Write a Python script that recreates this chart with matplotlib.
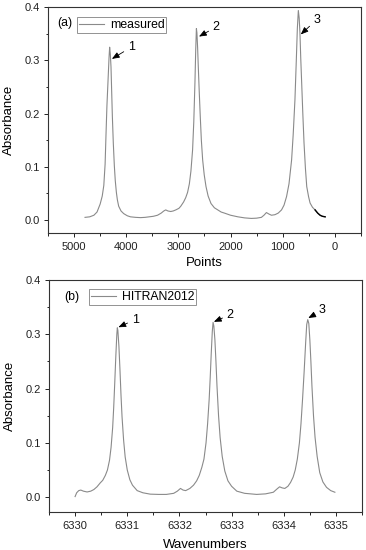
import numpy as np
import matplotlib
matplotlib.use("Agg")
import matplotlib.pyplot as plt
from matplotlib.ticker import MultipleLocator

plt.rcParams['font.family'] = ['Liberation Sans', 'DejaVu Sans']

# ---- panel (a): measured spectrum ----
points_a = [4790, 4700, 4620, 4560, 4500, 4460, 4430, 4405, 4388, 4370, 4349, 4330,
            4318, 4305, 4292, 4280, 4266, 4248, 4228, 4210, 4189, 4170, 4145, 4100,
            4048, 3980, 3919, 3820, 3726, 3640, 3560, 3480, 3400, 3330, 3280, 3243,
            3200, 3147, 3100, 3050, 2990, 2954, 2900, 2860, 2824, 2790, 2760, 2728,
            2705, 2683, 2668, 2655, 2645, 2632, 2619, 2600, 2581, 2560, 2535, 2505,
            2471, 2430, 2375, 2310, 2245, 2180, 2117, 2000, 1859, 1730, 1602, 1500,
            1409, 1360, 1313, 1260, 1216, 1150, 1087, 1023, 975, 927, 880, 830, 800,
            766, 740, 720, 701, 685, 670, 655, 637, 615, 592, 565, 540, 505, 476,
            430, 380, 330, 284, 240, 187]
absorb_a = [0.005, 0.006, 0.009, 0.015, 0.030, 0.045, 0.065, 0.105, 0.160, 0.215, 0.262, 0.305,
            0.325, 0.312, 0.288, 0.245, 0.195, 0.145, 0.102, 0.074, 0.052, 0.038, 0.026, 0.017,
            0.012, 0.008, 0.006, 0.005, 0.0045, 0.005, 0.006, 0.007, 0.009, 0.013, 0.017, 0.019,
            0.017, 0.016, 0.017, 0.019, 0.022, 0.026, 0.034, 0.042, 0.052, 0.068, 0.092, 0.132,
            0.185, 0.258, 0.320, 0.360, 0.352, 0.325, 0.289, 0.240, 0.195, 0.150, 0.113, 0.085,
            0.063, 0.045, 0.031, 0.023, 0.019, 0.015, 0.013, 0.009, 0.006, 0.004, 0.003, 0.0035,
            0.005, 0.009, 0.014, 0.011, 0.009, 0.010, 0.013, 0.019, 0.028, 0.044, 0.068, 0.113, 0.160,
            0.226, 0.300, 0.360, 0.394, 0.380, 0.352, 0.305, 0.258, 0.200, 0.145, 0.097, 0.063, 0.044, 0.032,
            0.024, 0.019, 0.013, 0.009, 0.007, 0.006]

# ---- panel (b): HITRAN2012 spectrum ----
wn_b = [6330.00, 6330.03, 6330.07, 6330.11, 6330.16, 6330.23, 6330.30, 6330.36, 6330.42,
        6330.48, 6330.53, 6330.58, 6330.62, 6330.66, 6330.69, 6330.72, 6330.74, 6330.76,
        6330.78, 6330.80, 6330.81, 6330.82, 6330.84, 6330.86, 6330.88, 6330.90, 6330.93,
        6330.96, 6331.00, 6331.05, 6331.10, 6331.19, 6331.30, 6331.44, 6331.60, 6331.75,
        6331.89, 6331.96, 6332.02, 6332.07, 6332.12, 6332.20, 6332.27, 6332.33, 6332.38,
        6332.43, 6332.47, 6332.51, 6332.54, 6332.57, 6332.59, 6332.61, 6332.63, 6332.645,
        6332.66, 6332.68, 6332.70, 6332.72, 6332.75, 6332.78, 6332.82, 6332.87, 6332.93,
        6333.00, 6333.10, 6333.25, 6333.48, 6333.65, 6333.80, 6333.87, 6333.92, 6333.97,
        6334.02, 6334.08, 6334.13, 6334.18, 6334.22, 6334.26, 6334.30, 6334.33, 6334.36,
        6334.39, 6334.42, 6334.44, 6334.46, 6334.48, 6334.50, 6334.52, 6334.54, 6334.57,
        6334.60, 6334.64, 6334.69, 6334.75, 6334.82, 6334.90, 6334.98]
absorb_b = [0.001, 0.008, 0.012, 0.013, 0.011, 0.0095, 0.011, 0.014, 0.019,
            0.026, 0.031, 0.040, 0.050, 0.068, 0.092, 0.128, 0.165, 0.210,
            0.258, 0.300, 0.312, 0.307, 0.278, 0.235, 0.188, 0.148, 0.105,
            0.074, 0.050, 0.032, 0.022, 0.012, 0.008, 0.0055, 0.005, 0.005,
            0.007, 0.011, 0.016, 0.013, 0.012, 0.016, 0.022, 0.030, 0.040,
            0.055, 0.070, 0.100, 0.135, 0.180, 0.220, 0.265, 0.305, 0.322,
            0.315, 0.290, 0.250, 0.205, 0.150, 0.110, 0.075, 0.048, 0.030,
            0.020, 0.011, 0.007, 0.005, 0.006, 0.009, 0.015, 0.019, 0.017,
            0.016, 0.020, 0.027, 0.037, 0.050, 0.070, 0.100, 0.135, 0.180,
            0.230, 0.285, 0.318, 0.327, 0.320, 0.290, 0.250, 0.205, 0.150,
            0.110, 0.075, 0.045, 0.028, 0.018, 0.012, 0.009]

labels_peaks = ["1", "2", "3"]
# annotation positions (text, arrow head)
ann_a_text = [(3905, 0.325), (2278, 0.363), (347, 0.377)]
ann_a_head = [(4275, 0.303), (2605, 0.345), (655, 0.349)]
ann_b_text = [(6331.15, 0.327), (6332.97, 0.336), (6334.74, 0.344)]
ann_b_head = [(6330.83, 0.313), (6332.66, 0.323), (6334.47, 0.330)]

line_col = '#8a8a8a'
spine_col = '#333333'

fig = plt.figure(figsize=(3.66, 5.5), dpi=100)
ax1 = fig.add_axes([0.1311, 0.5758, 0.8552, 0.4109])
ax2 = fig.add_axes([0.1339, 0.0685, 0.8552, 0.4224])

def style(ax):
    for s in ax.spines.values():
        s.set_color(spine_col)
        s.set_linewidth(0.8)
    ax.tick_params(which='both', direction='out', top=False, right=False,
                   labelsize=8, colors='#222222', width=0.7)
    ax.tick_params(which='major', length=3, pad=3)
    ax.tick_params(which='minor', length=1.8)
    ax.yaxis.set_major_locator(MultipleLocator(0.1))
    ax.yaxis.set_minor_locator(MultipleLocator(0.05))
    ax.yaxis.set_major_formatter(plt.FormatStrFormatter('%.1f'))
    ax.set_ylabel('Absorbance', fontsize=9.5, labelpad=7)

arrow_style = dict(arrowstyle='-|>,head_length=0.5,head_width=0.2',
                   color='black', lw=0.6, shrinkA=1, shrinkB=0)

# panel a
xa = np.array(points_a)
ya = np.array(absorb_a)
l1, = ax1.plot(xa, ya, color=line_col, lw=0.8, label='measured')
mask = xa <= 380
ax1.plot(xa[mask], ya[mask], color='black', lw=1.0)
ax1.set_xlim(5500, -500)
ax1.set_ylim(-0.025, 0.4)
ax1.xaxis.set_major_locator(MultipleLocator(1000))
ax1.xaxis.set_minor_locator(MultipleLocator(500))
style(ax1)
ax1.set_xlabel('Points', fontsize=9.5, labelpad=4)
leg1 = ax1.legend(handles=[l1], loc='upper left', bbox_to_anchor=(0.094, 0.956),
                  borderaxespad=0, fontsize=8.8, frameon=True, fancybox=False,
                  edgecolor='#777777', borderpad=0.15, handlelength=2.0,
                  handletextpad=0.5)
leg1.get_frame().set_linewidth(0.7)
ax1.text(0.054, 0.932, '(a)', transform=ax1.transAxes, fontsize=8.8,
         ha='center', va='center')
for lab, t, h in zip(labels_peaks, ann_a_text, ann_a_head):
    ax1.annotate(lab, xy=h, xytext=t, fontsize=9, ha='center', va='center',
                 arrowprops=arrow_style)

# panel b
l2, = ax2.plot(wn_b, absorb_b, color=line_col, lw=0.8, label='HITRAN2012')
ax2.set_xlim(6329.5, 6335.5)
ax2.set_ylim(-0.028, 0.4)
ax2.xaxis.set_major_locator(MultipleLocator(1))
ax2.xaxis.set_minor_locator(MultipleLocator(0.5))
ax2.xaxis.set_major_formatter(plt.FormatStrFormatter('%d'))
style(ax2)
ax2.set_xlabel('Wavenumbers', fontsize=9.5, labelpad=6)
leg2 = ax2.legend(handles=[l2], loc='upper left', bbox_to_anchor=(0.129, 0.961),
                  borderaxespad=0, fontsize=8.8, frameon=True, fancybox=False,
                  edgecolor='#777777', borderpad=0.15, handlelength=2.0,
                  handletextpad=0.5)
leg2.get_frame().set_linewidth(0.7)
ax2.text(0.0725, 0.928, '(b)', transform=ax2.transAxes, fontsize=8.8,
         ha='center', va='center')
for lab, t, h in zip(labels_peaks, ann_b_text, ann_b_head):
    ax2.annotate(lab, xy=h, xytext=t, fontsize=9, ha='center', va='center',
                 arrowprops=arrow_style)

fig.savefig('out.png', dpi=100)
